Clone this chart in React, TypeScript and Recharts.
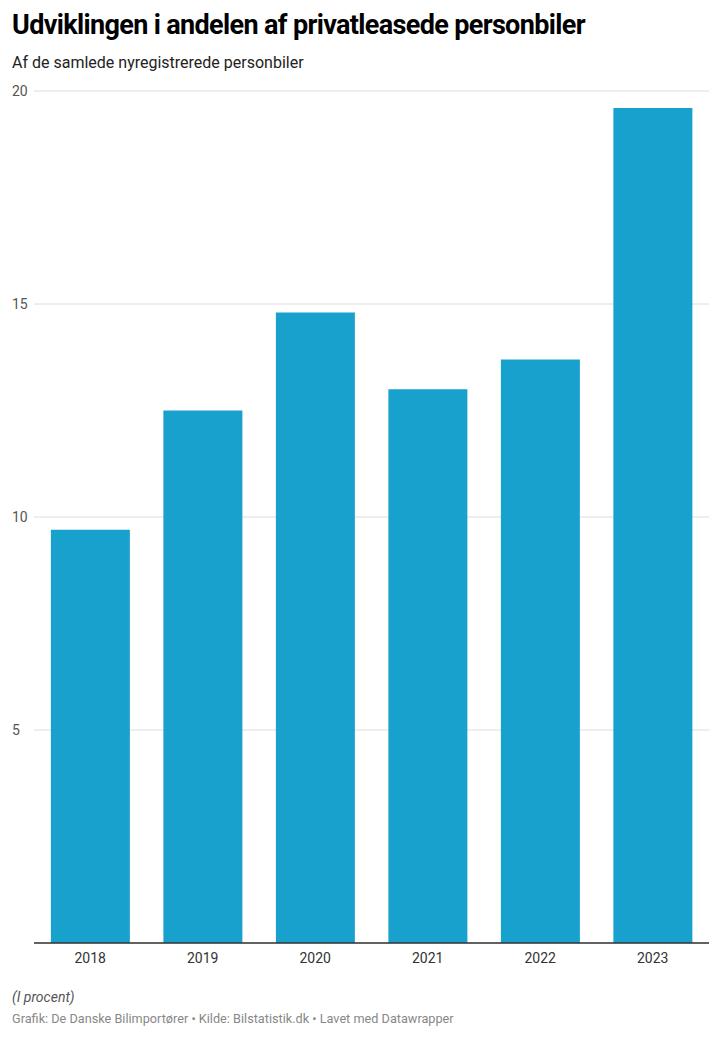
import { BarChart, Bar, XAxis, YAxis, CartesianGrid } from "recharts";

const years = ["2018", "2019", "2020", "2021", "2022", "2023"];
const shares = [9.7, 12.5, 14.8, 13.0, 13.7, 19.6];
const yTicks = [0, 5, 10, 15, 20];

const data = years.map((year, i) => ({ year, share: shares[i] }));

const YTick = (props: any) => {
  const { y, payload } = props;
  if (payload.value === 0) return null;
  return (
    <text x={12} y={y} dy={5} fontSize={14} fill="#555" textAnchor="start" fontFamily="Roboto">
      {payload.value}
    </text>
  );
};

export default function App() {
  return (
    <div style={{ position: "absolute", left: 0, top: 0, width: 720, height: 1038, background: "#fff", fontFamily: "Roboto" }}>
      <div style={{ position: "absolute", left: 12, top: 9, fontSize: 27, fontWeight: 700, color: "#000", letterSpacing: -0.65, whiteSpace: "nowrap" }}>
        Udviklingen i andelen af privatleasede personbiler
      </div>
      <div style={{ position: "absolute", left: 12, top: 53, fontSize: 16, color: "#222" }}>
        Af de samlede nyregistrerede personbiler
      </div>
      <div style={{ position: "absolute", left: 0, top: 0 }}>
        <BarChart width={720} height={980} data={data} margin={{ top: 91, right: 11, bottom: 7, left: 0 }} barCategoryGap="15%">
          <CartesianGrid vertical={false} stroke="#dcdcdc" />
          <XAxis
            dataKey="year"
            height={30}
            tickLine={false}
            axisLine={{ stroke: "#333", strokeWidth: 1.5 }}
            tick={{ fontSize: 14, fill: "#333", fontFamily: "Roboto" }}
            tickMargin={4}
          />
          <YAxis width={34} domain={[0, 20]} ticks={yTicks} axisLine={false} tickLine={false} tick={<YTick />} />
          <Bar dataKey="share" fill="#18a1cd" isAnimationActive={false} />
        </BarChart>
      </div>
      <div style={{ position: "absolute", left: 12, top: 989, fontSize: 14, fontStyle: "italic", color: "#555" }}>(I procent)</div>
      <div style={{ position: "absolute", left: 12, top: 1011, fontSize: 12.7, color: "#888" }}>
        Grafik: De Danske Bilimportører • Kilde: Bilstatistik.dk • Lavet med Datawrapper
      </div>
    </div>
  );
}
